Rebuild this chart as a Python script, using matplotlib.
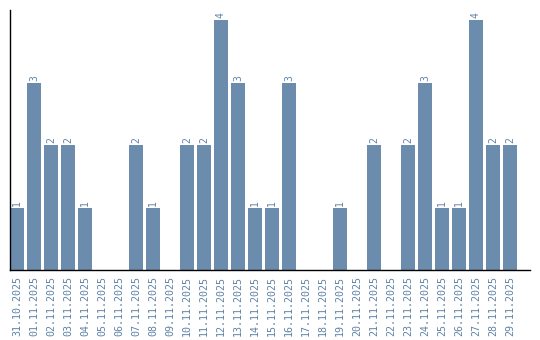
import matplotlib
matplotlib.use('Agg')
import matplotlib.pyplot as plt
import numpy as np

# ── Data ────────────────────────────────────────────────────
dates = ['31.10.2025', '01.11.2025', '02.11.2025', '03.11.2025', '04.11.2025',
         '05.11.2025', '06.11.2025', '07.11.2025', '08.11.2025', '09.11.2025',
         '10.11.2025', '11.11.2025', '12.11.2025', '13.11.2025', '14.11.2025',
         '15.11.2025', '16.11.2025', '17.11.2025', '18.11.2025', '19.11.2025',
         '20.11.2025', '21.11.2025', '22.11.2025', '23.11.2025', '24.11.2025',
         '25.11.2025', '26.11.2025', '27.11.2025', '28.11.2025', '29.11.2025']
counts = [1, 3, 2, 2, 1, 0, 0, 2, 1, 0,
          2, 2, 4, 3, 1, 1, 3, 0, 0, 1,
          0, 2, 0, 2, 3, 1, 1, 4, 2, 2]

# ── Style ───────────────────────────────────────────────────
BAR = '#6b8cac'
TXT = '#5f82a6'

fig = plt.figure(figsize=(5.4, 3.4), dpi=100)
ax = fig.add_axes([10 / 540, 70 / 340, 520 / 540, 260 / 340])

x = np.arange(len(dates))
ax.bar(x, counts, width=0.82, color=BAR)

for xi, v in zip(x, counts):
    if v > 0:
        ax.text(xi, v + 0.03, str(v), rotation=90, ha='center', va='bottom',
                color=TXT, fontsize=7, family='DejaVu Sans Mono')

ax.set_xticks(x)
ax.set_xticklabels(dates, rotation=90, color=TXT, fontsize=7.2, family='DejaVu Sans Mono')
ax.tick_params(axis='x', length=0, pad=4)
ax.set_yticks([])

ax.set_xlim(-0.41, 30.18)
ax.set_ylim(0, 4.16)

for s in ('top', 'right'):
    ax.spines[s].set_visible(False)
for s in ('left', 'bottom'):
    ax.spines[s].set_color('black')
    ax.spines[s].set_linewidth(1.0)

fig.savefig('out.png', dpi=100, facecolor='white')
